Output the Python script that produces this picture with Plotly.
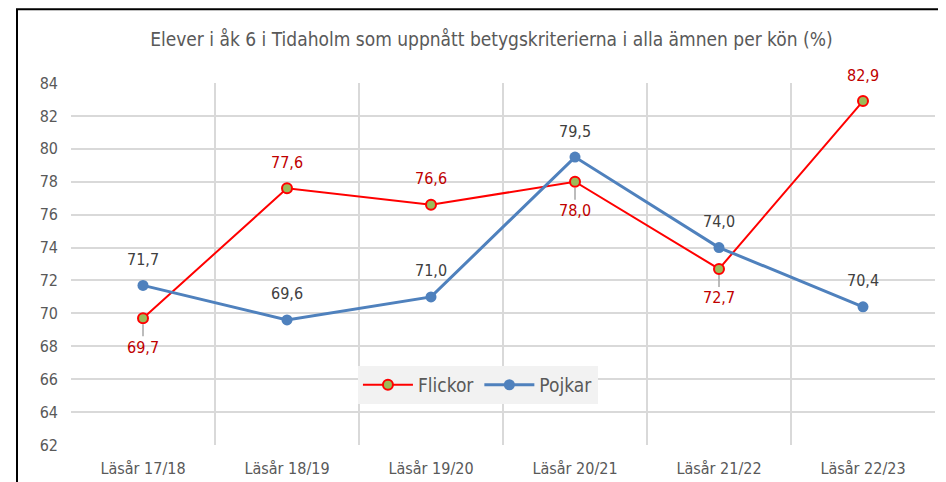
import plotly.graph_objects as go

categories = ["Läsår 17/18", "Läsår 18/19", "Läsår 19/20", "Läsår 20/21", "Läsår 21/22", "Läsår 22/23"]
flickor = [69.7, 77.6, 76.6, 78.0, 72.7, 82.9]
pojkar = [71.7, 69.6, 71.0, 79.5, 74.0, 70.4]
flickor_above = [False, True, True, False, False, True]
pojkar_above = [True] * 6
y_ticks = list(range(62, 85, 2))

FONT = "DejaVu Sans Condensed, Liberation Sans Narrow, Arial Narrow, sans-serif"
x = list(range(len(categories)))

def fmt(v):
    return f"{v:.1f}".replace(".", ",")

fig = go.Figure()
fig.add_trace(go.Scatter(
    x=x, y=flickor, name="Flickor", mode="lines+markers",
    line=dict(color="#FF0000", width=2),
    marker=dict(size=10, color="#9BBB59", line=dict(color="#FF0000", width=2)),
    cliponaxis=False,
))
fig.add_trace(go.Scatter(
    x=x, y=pojkar, name="Pojkar", mode="lines+markers",
    line=dict(color="#4F81BD", width=3),
    marker=dict(size=11, color="#4F81BD"),
    cliponaxis=False,
))

annotations = []
for xi, v, up in zip(x, flickor, flickor_above):
    if up:
        annotations.append(dict(x=xi, y=v, xref="x", yref="y", text=fmt(v), showarrow=False,
                                yshift=26, font=dict(color="#C00000", size=16, family=FONT)))
    else:
        annotations.append(dict(x=xi, y=v, xref="x", yref="y", text=fmt(v), showarrow=True,
                                ax=0, ay=29, arrowhead=0, arrowwidth=1.5, arrowcolor="#A6A6A6",
                                standoff=6, font=dict(color="#C00000", size=16, family=FONT)))
for xi, v, up in zip(x, pojkar, pojkar_above):
    annotations.append(dict(x=xi, y=v, xref="x", yref="y", text=fmt(v), showarrow=False,
                            yshift=26 if up else -27,
                            font=dict(color="#404040", size=16, family=FONT)))

fig.update_layout(
    width=946, height=482,
    margin=dict(l=63, r=19, t=75, b=45),
    paper_bgcolor="white", plot_bgcolor="white",
    font=dict(family=FONT, color="#595959", size=16),
    title=dict(text="Elever i åk 6 i Tidaholm som uppnått betygskriterierna i alla ämnen per kön (%)",
               x=0.511, xanchor="center", y=0.934, yanchor="middle",
               font=dict(size=19, color="#595959", family=FONT)),
    showlegend=True,
    legend=dict(orientation="h", x=0.471, y=0.166, xanchor="center", yanchor="middle",
                bgcolor="#F2F2F2", font=dict(size=19, color="#595959", family=FONT),
                itemwidth=50, borderwidth=0),
    xaxis=dict(range=[-0.5, len(categories) - 0.5], tickmode="array", tickvals=x, ticktext=categories,
               showgrid=False, zeroline=False, showline=False, ticks="", ticklabelstandoff=12,
               minor=dict(tickmode="array", tickvals=[i - 0.5 for i in range(len(categories) + 1)],
                          showgrid=True, gridcolor="#D9D9D9", gridwidth=2, ticks=""),
               tickfont=dict(size=16, color="#595959")),
    yaxis=dict(range=[62, 84], tickmode="array", tickvals=y_ticks, showgrid=True,
               gridcolor="#D9D9D9", gridwidth=2, zeroline=False, showline=False, ticks="",
               ticklabelstandoff=12,
               tickfont=dict(size=16, color="#595959")),
    annotations=annotations,
    shapes=[dict(type="rect", xref="paper", yref="paper", x0=-0.0625, x1=1.3, y0=-0.3, y1=1.204,
                 line=dict(color="black", width=2), layer="above")],
)

fig.write_html("out.html")
